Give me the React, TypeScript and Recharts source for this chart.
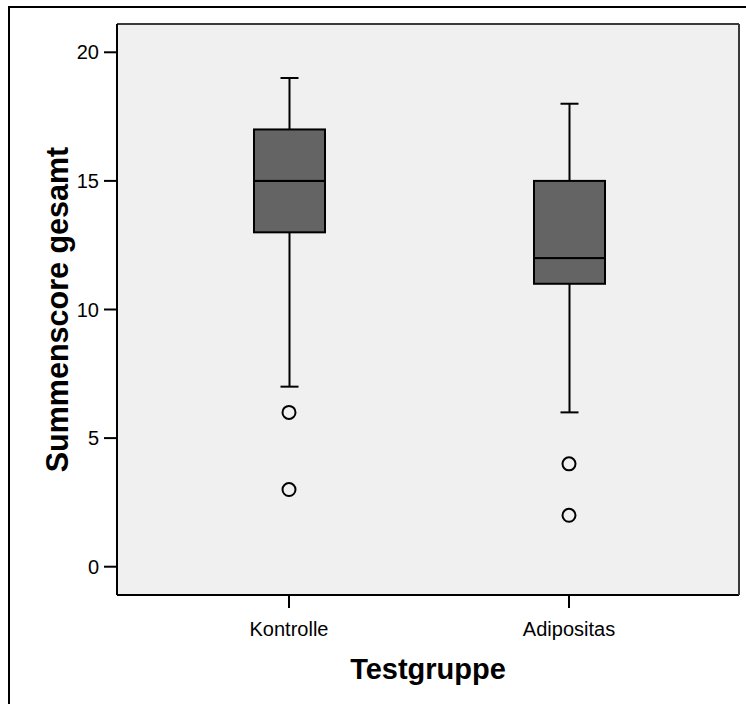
import React from "react";
import {
  ComposedChart,
  Bar,
  Line,
  Scatter,
  XAxis,
  YAxis,
  CartesianGrid,
} from "recharts";

const categories = ["Kontrolle", "Adipositas"];
const whiskerMin = [7, 6];
const quartile1 = [13, 11];
const medians = [15, 12];
const quartile3 = [17, 15];
const whiskerMax = [19, 18];
const outliersUpper = [6, 4];
const outliersLower = [3, 2];
const yTicks = [0, 5, 10, 15, 20];

const data = categories.map((name, i) => ({
  name,
  base: whiskerMin[i],
  lowWhisker: quartile1[i] - whiskerMin[i],
  lowBox: medians[i] - quartile1[i],
  highBox: quartile3[i] - medians[i],
  highWhisker: whiskerMax[i] - quartile3[i],
  outUpper: outliersUpper[i],
  outLower: outliersLower[i],
}));

const FONT = "'Liberation Sans', Arial, Helvetica, sans-serif";
const BOX_FILL = "#646464";
const CAP = 9;
const Y_DOMAIN = [-1.1, 21.1];

const Hidden = () => null;

const LowWhisker = (props: any) => {
  const { x, y, width, height } = props;
  const cx = x + width / 2;
  return (
    <g>
      <line x1={cx} y1={y} x2={cx} y2={y + height} stroke="#000" strokeWidth={2} />
      <line x1={cx - CAP} y1={y + height} x2={cx + CAP} y2={y + height} stroke="#000" strokeWidth={2} />
    </g>
  );
};

const HighWhisker = (props: any) => {
  const { x, y, width, height } = props;
  const cx = x + width / 2;
  return (
    <g>
      <line x1={cx} y1={y} x2={cx} y2={y + height} stroke="#000" strokeWidth={2} />
      <line x1={cx - CAP} y1={y} x2={cx + CAP} y2={y} stroke="#000" strokeWidth={2} />
    </g>
  );
};

const BoxPart = (props: any) => {
  const { x, y, width, height } = props;
  return (
    <rect x={x} y={y} width={width} height={height} fill={BOX_FILL} stroke="#000" strokeWidth={2} />
  );
};

const Outlier = (props: any) => {
  const { cx, cy } = props;
  return <circle cx={cx} cy={cy} r={6.5} fill="none" stroke="#000" strokeWidth={2} />;
};

export default function App() {
  return (
    <div style={{ position: "absolute", left: 0, top: 0, width: 746, height: 704, background: "#fff", fontFamily: FONT }}>
      <div
        style={{
          position: "absolute",
          left: 8,
          top: 6,
          width: 738,
          height: 698,
          boxSizing: "border-box",
          borderTop: "2px solid #000",
          borderLeft: "2px solid #000",
        }}
      />
      <div style={{ position: "absolute", left: 0, top: 0 }}>
        <ComposedChart
          width={746}
          height={704}
          data={data}
          margin={{ top: 23, right: 6, bottom: 0, left: 0 }}
          style={{ fontFamily: FONT }}
        >
          <CartesianGrid horizontal={false} vertical={false} fill="#f0f0f0" />
          <XAxis
            dataKey="name"
            type="category"
            height={109}
            padding={{ left: 32, right: 30 }}
            tickSize={13}
            tickMargin={14}
            axisLine={{ stroke: "#000", strokeWidth: 2 }}
            tickLine={{ stroke: "#000", strokeWidth: 2 }}
            tick={{ fontSize: 20, fill: "#000", fontFamily: FONT }}
            label={{
              value: "Testgruppe",
              position: "insideBottom",
              offset: 25,
              style: { fontSize: 29, fontWeight: "bold", fill: "#000", fontFamily: FONT },
            }}
          />
          <XAxis
            xAxisId="top"
            dataKey="name"
            orientation="top"
            height={1}
            tick={false}
            tickLine={false}
            axisLine={{ stroke: "#3a3a3a", strokeWidth: 2 }}
          />
          <YAxis
            type="number"
            domain={Y_DOMAIN}
            ticks={yTicks}
            allowDataOverflow
            width={117}
            tickSize={13}
            tickMargin={5}
            axisLine={{ stroke: "#000", strokeWidth: 2 }}
            tickLine={{ stroke: "#000", strokeWidth: 2 }}
            tick={{ fontSize: 20, fill: "#000", fontFamily: FONT }}
            label={{
              value: "Summenscore gesamt",
              angle: -90,
              position: "insideLeft",
              offset: 57,
              style: { textAnchor: "middle", fontSize: 30.5, fontWeight: "bold", fill: "#000", fontFamily: FONT },
            }}
          />
          <YAxis
            yAxisId="right"
            orientation="right"
            type="number"
            domain={Y_DOMAIN}
            allowDataOverflow
            width={1}
            tick={false}
            tickLine={false}
            axisLine={{ stroke: "#3a3a3a", strokeWidth: 2 }}
          />
          {/* invisible series so the mirror axes (plot frame) get drawn */}
          <Line
            xAxisId="top"
            yAxisId="right"
            dataKey="base"
            stroke="none"
            dot={false}
            activeDot={false}
            legendType="none"
            isAnimationActive={false}
          />
          <Bar dataKey="base" stackId="box" barSize={71} shape={Hidden} isAnimationActive={false} />
          <Bar dataKey="lowWhisker" stackId="box" barSize={71} shape={LowWhisker} isAnimationActive={false} />
          <Bar dataKey="lowBox" stackId="box" barSize={71} shape={BoxPart} isAnimationActive={false} />
          <Bar dataKey="highBox" stackId="box" barSize={71} shape={BoxPart} isAnimationActive={false} />
          <Bar dataKey="highWhisker" stackId="box" barSize={71} shape={HighWhisker} isAnimationActive={false} />
          <Scatter dataKey="outUpper" shape={Outlier} isAnimationActive={false} />
          <Scatter dataKey="outLower" shape={Outlier} isAnimationActive={false} />
        </ComposedChart>
      </div>
    </div>
  );
}
